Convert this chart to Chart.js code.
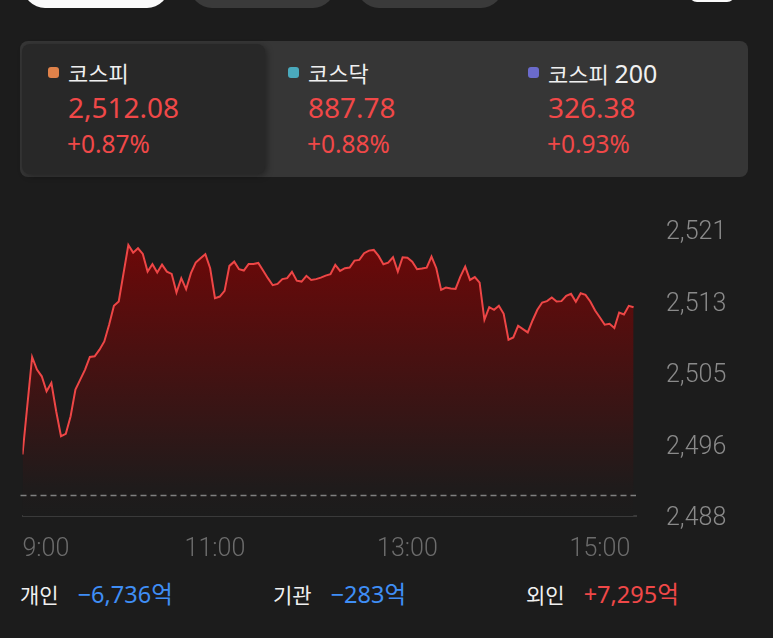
<!DOCTYPE html>
<html lang="ko">
<head>
<meta charset="utf-8">
<script src="https://cdn.jsdelivr.net/npm/chart.js@4.4.1/dist/chart.umd.min.js"></script>
<style>
  html, body { margin:0; padding:0; background:#1c1c1c; width:773px; height:638px; overflow:hidden;
    font-family:"Noto Sans","Noto Sans CJK KR",sans-serif; }
  .abs { position:absolute; }
  .pill { position:absolute; top:-40px; height:48px; border-radius:22px; background:#3a3a3a; }
  .panel { left:20px; top:41px; width:728px; height:136px; background:#363636; border-radius:8px; }
  .active { left:22px; top:44px; width:243px; height:130px; background:#282828; border-radius:8px;
    box-shadow:2px 2px 6px rgba(0,0,0,0.35); }
  .dot { width:11px; height:11px; border-radius:3px; }
  .title { font-size:22px; line-height:30px; color:#f0f0f0; white-space:nowrap; }
  .title .num { font-size:25px; }
  .val { font-size:28px; line-height:36px; color:#f04848; }
  .chg { font-size:24.5px; line-height:30px; color:#f04848; }
  .flow { font-size:21px; line-height:30px; white-space:nowrap; }
  .flow .amt { font-size:23.5px; margin-left:19px; }
  .lbl { color:#f0f0f0; }
  .down { color:#3f8ef5; }
  .up { color:#f04848; }
  #chart { position:absolute; left:0; top:200px; }
</style>
</head>
<body>
<div class="pill" style="left:23px;width:146px;background:#fafafa;"></div>
<div class="pill" style="left:190px;width:145px;"></div>
<div class="pill" style="left:357px;width:146px;"></div>
<div class="abs" style="left:689px;top:-30px;width:46px;height:32px;border-radius:8px;background:#fafafa;"></div>

<div class="abs panel"></div>
<div class="abs active"></div>

<div class="abs dot" style="left:48px;top:67px;background:#e0824a;"></div>
<div class="abs title" style="left:68px;top:58px;">코스피</div>
<div class="abs val" style="left:68px;top:89px;">2,512.08</div>
<div class="abs chg" style="left:67px;top:129px;">+0.87%</div>

<div class="abs dot" style="left:288px;top:67px;background:#4aaabd;"></div>
<div class="abs title" style="left:308px;top:58px;">코스닥</div>
<div class="abs val" style="left:308px;top:89px;">887.78</div>
<div class="abs chg" style="left:307px;top:129px;">+0.88%</div>

<div class="abs dot" style="left:528px;top:67px;background:#6b6bcc;"></div>
<div class="abs title" style="left:548px;top:58px;">코스피 <span class="num">200</span></div>
<div class="abs val" style="left:548px;top:89px;">326.38</div>
<div class="abs chg" style="left:547px;top:129px;">+0.93%</div>

<canvas id="chart" width="773" height="370"></canvas>

<div class="abs flow" style="left:20px;top:579px;"><span class="lbl">개인</span><span class="amt down">−6,736억</span></div>
<div class="abs flow" style="left:273px;top:579px;"><span class="lbl">기관</span><span class="amt down">−283억</span></div>
<div class="abs flow" style="left:526px;top:579px;"><span class="lbl">외인</span><span class="amt up">+7,295억</span></div>

<script>
// minutes after 9:00 (3-minute steps)
const minutes = [0,6,9,12,15,18,21,24,27,30,33,36,39,42,45,48,51,54,57,60,
  63,66,69,72,75,78,81,84,87,90,93,96,99,102,105,108,111,114,117,120,
  123,126,129,132,135,138,141,144,147,150,153,156,159,162,165,168,171,174,177,180,
  183,186,189,192,195,198,201,204,207,210,213,216,219,222,225,228,231,234,237,240,
  243,246,249,252,255,258,261,264,267,270,273,276,279,282,285,288,291,294,297,300,
  303,306,309,312,315,318,321,324,327,330,333,336,339,342,345,348,351,354,357,360,
  363,366,369,372,375,378,381];

const kospi = [2495.10,2506.35,2504.89,2504.12,2502.39,2503.36,2500.09,2497.21,2497.48,2499.51,
  2502.58,2503.73,2504.89,2506.35,2506.42,2507.19,2508.14,2510.07,2512.25,2512.75,
  2516.02,2519.27,2518.39,2518.89,2518.24,2516.20,2517.05,2516.09,2517.01,2516.20,
  2515.94,2513.78,2515.44,2514.17,2516.02,2517.24,2517.74,2518.20,2516.59,2513.14,
  2513.32,2513.98,2516.86,2517.35,2516.48,2516.32,2517.09,2517.09,2517.20,2516.32,
  2515.44,2514.63,2514.78,2515.33,2515.44,2516.17,2515.16,2515.05,2515.71,2515.24,
  2515.33,2515.51,2515.74,2515.90,2516.97,2516.28,2516.59,2516.66,2517.47,2517.55,
  2518.32,2518.62,2518.70,2518.01,2517.05,2517.24,2517.86,2516.20,2517.86,2517.81,
  2517.35,2516.48,2516.55,2516.66,2517.93,2516.59,2514.09,2514.36,2514.24,2514.21,
  2515.62,2516.78,2515.24,2515.56,2514.93,2510.64,2512.10,2511.79,2512.25,2511.33,
  2508.34,2508.60,2509.95,2509.57,2509.18,2510.56,2511.79,2512.63,2512.79,2513.21,
  2512.75,2512.79,2513.40,2513.63,2512.71,2513.71,2513.52,2512.75,2511.71,2510.91,
  2510.07,2510.18,2509.69,2511.48,2511.25,2512.25,2512.08];

const xTicks = [0, 120, 240, 360];
const yTicks = [2488, 2496.25, 2504.5, 2512.75, 2521];
const prevClose = 2490.41; // 2,512.08 / 1.0087
const xMax = 382.5;

const tickFont = { family: 'Roboto', size: 25, weight: 300 };

function hhmm(m) {
  const h = 9 + Math.floor(m / 60);
  const mm = m % 60;
  return h + ':' + String(mm).padStart(2, '0');
}

// dashed previous close line
const prevCloseLine = {
  id: 'prevCloseLine',
  afterDatasetsDraw(chart) {
    const { ctx, chartArea, scales } = chart;
    const y = Math.round(scales.y.getPixelForValue(prevClose)) + 0.5;
    ctx.save();
    ctx.setLineDash([6, 4]);
    ctx.strokeStyle = '#808080';
    ctx.lineWidth = 1.5;
    ctx.beginPath();
    ctx.moveTo(chartArea.left - 2, y);
    ctx.lineTo(chartArea.right, y);
    ctx.stroke();
    ctx.restore();
  }
};

const ctx = document.getElementById('chart').getContext('2d');
new Chart(ctx, {
  type: 'line',
  data: {
    datasets: [{
      data: minutes.map((m, i) => ({ x: m, y: kospi[i] })),
      borderColor: '#ee4646',
      borderWidth: 2,
      pointRadius: 0,
      tension: 0,
      fill: 'start',
      backgroundColor: (c) => {
        const area = c.chart.chartArea;
        if (!area) return 'rgba(0,0,0,0)';
        const g = c.chart.ctx.createLinearGradient(0, area.top, 0, area.bottom);
        g.addColorStop(0, '#710707');
        g.addColorStop(0.9, '#1f1b1b');
        g.addColorStop(1, '#1c1c1c');
        return g;
      }
    }]
  },
  options: {
    responsive: false,
    devicePixelRatio: 1,
    animation: false,
    layout: { padding: { left: 22.5, top: 30, right: 0, bottom: 0 } },
    plugins: { legend: { display: false }, tooltip: { enabled: false } },
    scales: {
      x: {
        type: 'linear',
        min: 0,
        max: xMax,
        grid: { display: false },
        border: { display: true, color: '#3a3a3a', width: 2 },
        afterBuildTicks: (axis) => {
          axis.ticks = xTicks.concat([xMax]).map(v => ({ value: v }));
        },
        afterFit: (s) => { s.height = 54; },
        ticks: {
          align: 'inner',
          autoSkip: false,
          maxRotation: 0,
          padding: 11,
          color: '#6c6c6c',
          font: tickFont,
          callback: (v) => xTicks.includes(v) ? hhmm(v) : ''
        }
      },
      y: {
        position: 'right',
        min: 2488,
        max: 2521,
        grid: { display: false },
        border: { display: false },
        afterBuildTicks: (axis) => {
          axis.ticks = yTicks.map(v => ({ value: v }));
        },
        afterFit: (s) => {
          s.width = 137;
          s.paddingTop = 0;
          s.paddingBottom = 0;
        },
        ticks: {
          padding: 22,
          labelOffset: 3,
          color: '#8a8a8a',
          font: tickFont,
          callback: (v) => Math.round(v).toLocaleString('en-US')
        }
      }
    }
  },
  plugins: [prevCloseLine]
});
</script>
</body>
</html>
